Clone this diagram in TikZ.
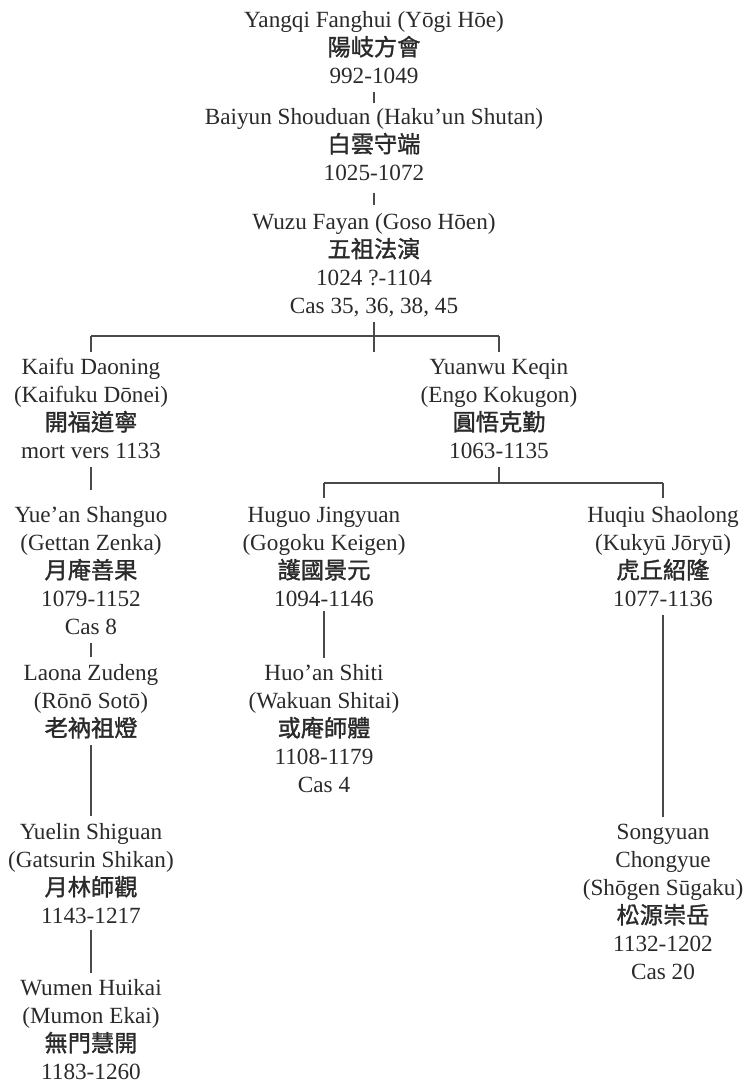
\documentclass[tikz,border=0pt]{standalone}
\usepackage{fontspec}
\setmainfont{Liberation Serif}
\newfontfamily\cjk{Noto Sans CJK TC}[FakeBold=1.4]
\newcommand\zh[1]{{\cjk #1}}
\newcommand\pers[1]{\begin{tabular}[t]{@{}c@{}}#1\end{tabular}}
\definecolor{txt}{HTML}{2A2A2A}
\definecolor{ln}{HTML}{4A4A4A}
\tikzset{
  person/.style={anchor=base, inner sep=0pt, outer sep=0pt, text=txt,
    font=\fontsize{17.4}{21}\selectfont},
  link/.style={draw=ln, line width=0.9pt}
}
\begin{document}
\begin{tikzpicture}[x=0.75pt,y=-0.75pt]
\useasboundingbox (0,0) rectangle (745,1085);
% persons
\node[person] (yangqi) at (374,27.5) {\pers{Yangqi Fanghui (Yōgi Hōe)\\\zh{陽岐方會}\\992-1049}};
\node[person] (baiyun) at (374,124.5) {\pers{Baiyun Shouduan (Haku’un Shutan)\\\zh{白雲守端}\\1025-1072}};
\node[person] (wuzu) at (374,229.5) {\pers{Wuzu Fayan (Goso Hōen)\\\zh{五祖法演}\\1024 ?-1104\\Cas 35, 36, 38, 45}};
\node[person] (kaifu) at (91,374.5) {\pers{Kaifu Daoning\\(Kaifuku Dōnei)\\\zh{開福道寧}\\mort vers 1133}};
\node[person] (yuanwu) at (499,374.5) {\pers{Yuanwu Keqin\\(Engo Kokugon)\\\zh{圓悟克勤}\\1063-1135}};
\node[person] (yuean) at (91,522.5) {\pers{Yue’an Shanguo\\(Gettan Zenka)\\\zh{月庵善果}\\1079-1152\\Cas 8}};
\node[person] (laona) at (91,680.5) {\pers{Laona Zudeng\\(Rōnō Sotō)\\\zh{老衲祖燈}}};
\node[person] (yuelin) at (91,839.5) {\pers{Yuelin Shiguan\\(Gatsurin Shikan)\\\zh{月林師觀}\\1143-1217}};
\node[person] (wumen) at (91,995.5) {\pers{Wumen Huikai\\(Mumon Ekai)\\\zh{無門慧開}\\1183-1260}};
\node[person] (huguo) at (324,522.5) {\pers{Huguo Jingyuan\\(Gogoku Keigen)\\\zh{護國景元}\\1094-1146}};
\node[person] (huoan) at (324,680.5) {\pers{Huo’an Shiti\\(Wakuan Shitai)\\\zh{或庵師體}\\1108-1179\\Cas 4}};
\node[person] (huqiu) at (663,522.5) {\pers{Huqiu Shaolong\\(Kukyū Jōryū)\\\zh{虎丘紹隆}\\1077-1136}};
\node[person] (songyuan) at (663,839.5) {\pers{Songyuan\\Chongyue\\(Shōgen Sūgaku)\\\zh{松源崇岳}\\1132-1202\\Cas 20}};
% fork points
\coordinate (fork1) at (374,336);
\coordinate (fork2) at (499,483);
% connectors
\draw[link, shorten >=1.5pt] (yangqi.south) -- (baiyun.north);
\draw[link, shorten <=3pt, shorten >=3.75pt] (baiyun.south) -- (wuzu.north);
\draw[link, shorten >=2.25pt] (wuzu.south) -- (wuzu.south |- kaifu.north);
\draw[link] (kaifu.north |- fork1) -- (yuanwu.north |- fork1);
\draw[link, shorten >=2.25pt] (kaifu.north |- fork1) -- (kaifu.north);
\draw[link, shorten >=2.25pt] (yuanwu.north |- fork1) -- (yuanwu.north);
\draw[link, shorten >=9.75pt] (kaifu.south) -- (yuean.north);
\draw[link, shorten >=3pt] (yuean.south) -- (laona.north);
\draw[link, shorten >=3pt] (laona.south) -- (yuelin.north);
\draw[link, shorten <=-1.5pt, shorten >=2.25pt] (yuelin.south) -- (wumen.north);
\draw[link] (yuanwu.south) -- (yuanwu.south |- fork2);
\draw[link] (huguo.north |- fork2) -- (huqiu.north |- fork2);
\draw[link, shorten >=3.75pt] (huguo.north |- fork2) -- (huguo.north);
\draw[link, shorten >=3.75pt] (huqiu.north |- fork2) -- (huqiu.north);
\draw[link, shorten <=-3pt, shorten >=2.25pt] (huguo.south) -- (huoan.north);
\draw[link, shorten >=2.25pt] (huqiu.south) -- (songyuan.north);
\end{tikzpicture}
\end{document}
